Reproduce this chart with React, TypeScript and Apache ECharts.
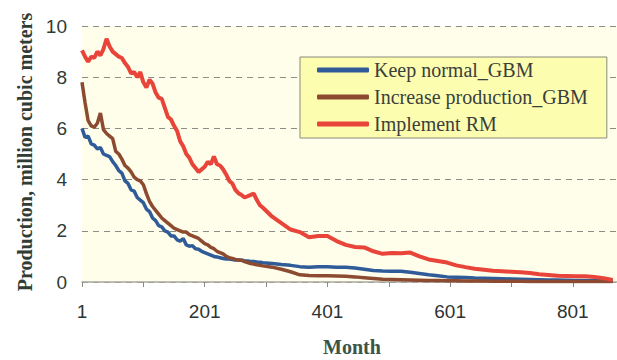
import React, { useEffect, useRef } from "react";
import * as echarts from "echarts";

// Sampled production months (x values)
const months = [
  1, 6, 11, 16, 21, 26, 31, 36, 41, 46, 51, 56, 61, 66, 71, 76, 81, 86, 91, 96,
  101, 106, 111, 116, 121, 126, 131, 136, 141, 146, 151, 156, 161, 166, 171, 176, 181, 186, 191, 196,
  201, 206, 211, 216, 221, 226, 231, 236, 241, 246, 251, 256, 261, 266, 271, 276, 281, 286, 291, 296,
  311, 326, 341, 356, 371, 386, 401, 416, 431, 446, 461, 476, 491, 506, 521, 536, 551, 566, 581, 596,
  611, 626, 641, 656, 671, 686, 701, 716, 731, 746, 761, 776, 791, 806, 821, 836, 851, 866,
];

const seriesNames = ["Keep normal_GBM", "Increase production_GBM", "Implement RM"];

// Production, million cubic meters
const keepNormal = [
  6.0, 5.65, 5.7, 5.4, 5.35, 5.2, 5.25, 5.0, 4.95, 4.9,
  4.7, 4.55, 4.35, 4.25, 3.95, 3.85, 3.6, 3.55, 3.3, 3.2,
  3.1, 2.85, 2.75, 2.5, 2.4, 2.2, 2.15, 2.0, 1.95, 1.8,
  1.8, 1.65, 1.6, 1.7, 1.45, 1.4, 1.42, 1.3, 1.28, 1.2,
  1.15, 1.1, 1.05, 1.0, 0.98, 0.95, 0.92, 0.9, 0.9, 0.88,
  0.86, 0.86, 0.85, 0.83, 0.82, 0.8, 0.8, 0.78, 0.77, 0.75,
  0.72, 0.68, 0.65, 0.6, 0.58, 0.6, 0.6, 0.58, 0.58, 0.55,
  0.5, 0.45, 0.43, 0.42, 0.42, 0.38, 0.33, 0.28, 0.24, 0.2,
  0.19, 0.18, 0.16, 0.15, 0.14, 0.13, 0.12, 0.11, 0.1, 0.09,
  0.08, 0.08, 0.07, 0.06, 0.06, 0.05, 0.05, 0.04,
];

const increaseProduction = [
  7.8, 7.0, 6.3, 6.1, 6.05, 6.2, 6.6, 5.95, 5.8, 5.7,
  5.6, 5.1, 5.0, 4.8, 4.55, 4.45, 4.3, 4.1, 4.0, 3.95,
  3.8, 3.45, 3.15, 2.95, 2.8, 2.65, 2.5, 2.4, 2.3, 2.2,
  2.1, 2.05, 2.0, 1.95, 1.95, 1.85, 1.8, 1.75, 1.7, 1.6,
  1.5, 1.45, 1.35, 1.3, 1.2, 1.15, 1.1, 1.0, 0.95, 0.92,
  0.88, 0.86, 0.85, 0.8, 0.76, 0.72, 0.7, 0.67, 0.65, 0.63,
  0.58, 0.5, 0.4, 0.28, 0.25, 0.24, 0.24, 0.23, 0.22, 0.2,
  0.17, 0.14, 0.11, 0.1, 0.09, 0.08, 0.07, 0.06, 0.06, 0.05,
  0.05, 0.04, 0.04, 0.04, 0.03, 0.03, 0.03, 0.03, 0.02, 0.02,
  0.02, 0.02, 0.02, 0.02, 0.02, 0.02, 0.02, 0.02,
];

const implementRM = [
  9.05, 8.8, 8.6, 8.8, 8.75, 9.0, 8.85, 9.1, 9.5, 9.2,
  9.0, 8.9, 8.8, 8.75, 8.55, 8.4, 8.15, 8.2, 8.0, 8.2,
  7.8, 7.6, 7.9, 7.75, 7.4, 7.2, 7.15, 6.8, 6.45, 6.35,
  6.1, 5.9, 5.5, 5.3, 5.0, 4.85, 4.6, 4.45, 4.3, 4.4,
  4.5, 4.7, 4.6, 4.9, 4.6, 4.55, 4.4, 4.2, 3.95, 3.85,
  3.6, 3.47, 3.4, 3.3, 3.35, 3.4, 3.45, 3.2, 3.0, 2.9,
  2.55, 2.3, 2.05, 1.95, 1.75, 1.8, 1.8, 1.6, 1.45, 1.37,
  1.35, 1.2, 1.1, 1.13, 1.12, 1.15, 1.0, 0.88, 0.82, 0.76,
  0.65, 0.58, 0.52, 0.48, 0.44, 0.42, 0.4, 0.38, 0.35, 0.3,
  0.27, 0.24, 0.23, 0.22, 0.22, 0.2, 0.15, 0.08,
];

const seriesColors = ["#2f5b98", "#8c4a30", "#e8443a"];
const lineWidths = [3.5, 3.5, 4];

// x axis runs in "months since month 1" so ticks land on 1, 101, 201, ...
const toPairs = (vals: number[]) => months.map((m, i) => [m - 1, vals[i]]);

export default function App() {
  const ref = useRef<HTMLDivElement>(null);

  useEffect(() => {
    if (!ref.current) return;
    const chart = echarts.init(ref.current, undefined, { renderer: "svg" });
    const allValues = [keepNormal, increaseProduction, implementRM];

    chart.setOption({
      animation: false,
      backgroundColor: "#ffffff",
      grid: {
        left: 82,
        right: 0,
        top: 26,
        bottom: 78,
        show: true,
        backgroundColor: "#fefeeb",
        borderWidth: 0,
      },
      xAxis: {
        type: "value",
        min: 0,
        max: 872,
        interval: 100,
        axisLine: { show: true, lineStyle: { color: "#a8a8a0", width: 1.5 } },
        axisTick: { show: true, length: 5, lineStyle: { color: "#8a8a84" } },
        splitLine: { show: false },
        axisLabel: {
          margin: 20,
          fontFamily: "Liberation Sans, Arial, sans-serif",
          fontSize: 19,
          color: "#2e3331",
          showMaxLabel: false,
          formatter: (v: number) => (v % 200 === 0 ? String(v + 1) : ""),
        },
      },
      yAxis: {
        type: "value",
        min: 0,
        max: 10,
        interval: 2,
        axisLine: { show: false },
        axisTick: { show: false },
        splitLine: {
          show: true,
          lineStyle: { color: "#8c8c86", type: [6, 5], width: 1.2 },
        },
        axisLabel: {
          margin: 15,
          fontFamily: "Liberation Sans, Arial, sans-serif",
          fontSize: 19,
          color: "#2f3b35",
        },
      },
      legend: {
        data: seriesNames,
        orient: "vertical",
        left: 300,
        top: 57,
        backgroundColor: "#fdfdb0",
        borderColor: "#8a8a7e",
        borderWidth: 1,
        padding: [3, 19, 4, 17],
        itemGap: 7,
        itemWidth: 52,
        itemHeight: 5,
        icon: "roundRect",
        textStyle: {
          fontFamily: "Liberation Serif, Times New Roman, serif",
          fontSize: 20,
          color: "#3a3f3c",
          lineHeight: 20,
          padding: [0, 0, 0, 0],
        },
      },
      series: seriesNames.map((name, i) => ({
        name,
        type: "line",
        data: toPairs(allValues[i]),
        showSymbol: false,
        symbol: "none",
        color: seriesColors[i],
        lineStyle: { color: seriesColors[i], width: lineWidths[i] },
        z: 2 + i,
      })),
      graphic: [
        {
          type: "text",
          x: 25,
          y: 152,
          rotation: Math.PI / 2,
          style: {
            text: "Production, million cubic meters",
            fontFamily: "Liberation Serif, Times New Roman, serif",
            fontWeight: "bold",
            fontSize: 20,
            fill: "#2f3d36",
            align: "center",
            verticalAlign: "middle",
          },
        },
        {
          type: "text",
          x: 352,
          y: 347,
          style: {
            text: "Month",
            fontFamily: "Liberation Serif, Times New Roman, serif",
            fontWeight: "bold",
            fontSize: 20,
            fill: "#3b5448",
            align: "center",
            verticalAlign: "middle",
          },
        },
      ],
    });

    return () => chart.dispose();
  }, []);

  return (
    <div
      ref={ref}
      style={{ position: "absolute", left: 0, top: 0, width: 617, height: 360 }}
    />
  );
}
